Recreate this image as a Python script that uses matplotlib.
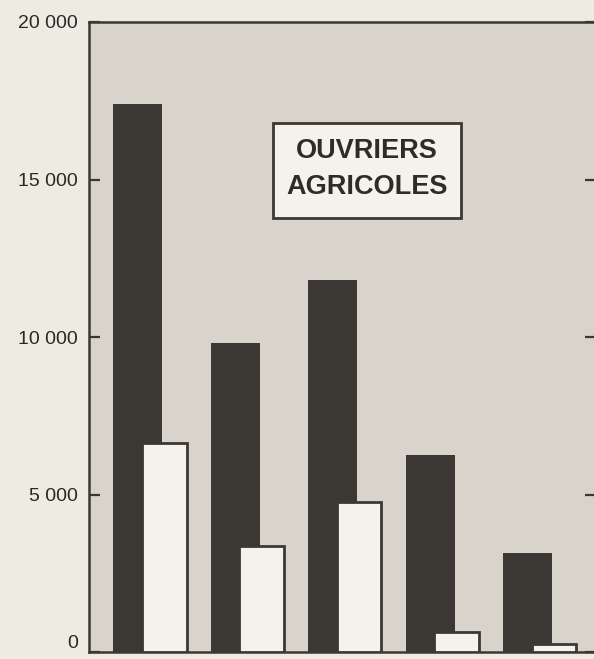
import numpy as np
import matplotlib
matplotlib.use("Agg")
import matplotlib.pyplot as plt
from matplotlib.patches import Rectangle

# values (number of farm workers)
groups = [0, 1, 2, 3, 4]
dark_values = [17400, 9800, 11800, 6250, 3150]
white_values = [6650, 3350, 4750, 650, 250]
yticks = [0, 5000, 10000, 15000, 20000]
ytick_labels = ["0", "5 000", "10 000", "15 000", "20 000"]
title_text = "OUVRIERS\nAGRICOLES"

paper = "#eeebe3"
stipple = "#d8d4cb"
ink = "#3b3833"
light = "#f5f2eb"

plt.rcParams["font.family"] = ["Liberation Sans", "DejaVu Sans"]

fig = plt.figure(figsize=(5.94, 6.59), dpi=100, facecolor=paper)
ax = fig.add_axes([89 / 594, 7 / 659, 507 / 594, 630 / 659])
ax.set_facecolor(stipple)

x = np.array(groups, dtype=float)
ax.bar(x, dark_values, width=0.5, color=ink, edgecolor=ink, linewidth=0, zorder=2)
ax.bar(x + 0.27, white_values, width=0.46, color=light, edgecolor=ink,
       linewidth=2, zorder=3)

ax.set_xlim(-0.5, 4.7)
ax.set_ylim(0, 20000)
ax.set_xticks([])
ax.set_yticks(yticks)
ax.set_yticklabels(ytick_labels)
ax.tick_params(axis="y", direction="in", length=8, width=1.6, color=ink,
               labelsize=14, labelcolor="#2b2925", pad=8, right=True)
# the zero label sits just above the bottom edge in the scan
ax.get_yticklabels()[0].set_verticalalignment("bottom")

for side in ["left", "top", "bottom", "right"]:
    ax.spines[side].set_color(ink)
    ax.spines[side].set_linewidth(1.8)

# framed label
ax.add_patch(Rectangle((0.363, 0.689), 0.371, 0.151, transform=ax.transAxes,
                       facecolor=light, edgecolor=ink, linewidth=2, zorder=4))
ax.text(0.548, 0.766, title_text, transform=ax.transAxes, ha="center",
        va="center", fontsize=19.5, fontweight="bold", color="#2e2c28",
        linespacing=1.5, zorder=5)

fig.savefig("out.png", dpi=100, facecolor=paper)
